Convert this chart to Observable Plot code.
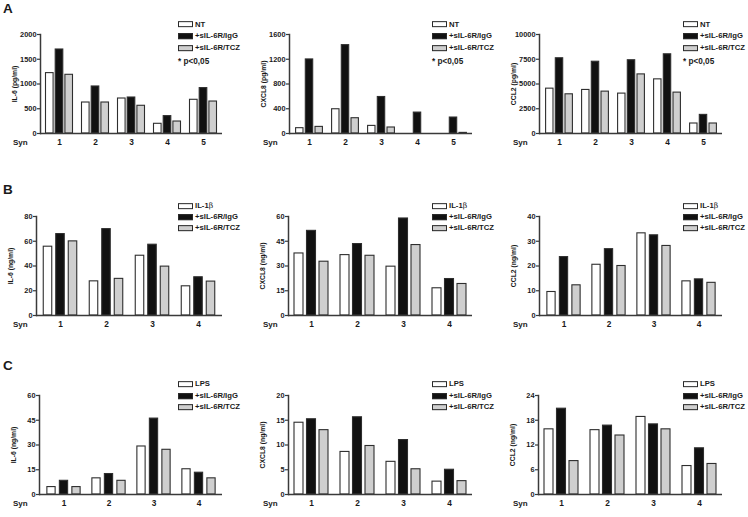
<!DOCTYPE html>
<html><head><meta charset="utf-8">
<script src="https://cdn.jsdelivr.net/npm/d3@7"></script>
<script src="https://cdn.jsdelivr.net/npm/@observablehq/plot@0.6"></script>
<style>
body{margin:0;background:#fff}
#root{position:relative;width:748px;height:517px;overflow:hidden;background:#fff;font-family:"Liberation Sans",Arial,sans-serif;font-weight:bold;color:#1a1a1a}
.abs{position:absolute;white-space:nowrap;line-height:1;transform:translateY(-50%)}
.panelsvg{position:absolute}
.box{display:inline-block;width:13px;height:4px;border:1.2px solid #2a2a2a;vertical-align:middle;margin-right:2px}
.leg{font-size:7.7px;display:flex;align-items:center}
g[aria-label="y-axis tick label"]{font-size:7.4px}
g[aria-label="x-axis tick label"]{font-size:8.3px}
g[aria-label="y-axis label"]{font-size:6.8px}
.beta{font-family:"DejaVu Serif",serif;font-weight:normal}
</style></head><body><div id="root"></div>
<script>
// ---------- data ----------
const synA = ["1", "2", "3", "4", "5"];
const synBC = ["1", "2", "3", "4"];
const legendA = ["NT", "+sIL-6R/IgG", "+sIL-6R/TCZ"];
const legendB = ["IL-1β", "+sIL-6R/IgG", "+sIL-6R/TCZ"];
const legendC = ["LPS", "+sIL-6R/IgG", "+sIL-6R/TCZ"];
const pNote = "* p<0,05";

// Row A (pg/ml)
const aIL6_NT  = [1220, 626, 707, 196, 681];
const aIL6_IgG = [1697, 950, 727, 351, 917];
const aIL6_TCZ = [1186, 626, 560, 242, 646];
const aCXCL8_NT  = [86, 392, 123, 0, 0];
const aCXCL8_IgG = [1197, 1428, 590, 338, 258];
const aCXCL8_TCZ = [107, 247, 97, 0, 10];
const aCCL2_NT  = [4530, 4400, 4030, 5470, 1010];
const aCCL2_IgG = [7600, 7250, 7400, 8000, 1880];
const aCCL2_TCZ = [3960, 4230, 5970, 4130, 1010];

// Row B (ng/ml)
const bIL6_IL1  = [55.6, 27.6, 48.3, 23.6];
const bIL6_IgG  = [65.8, 69.8, 57.2, 30.9];
const bIL6_TCZ  = [59.9, 29.6, 39.5, 27.4];
const bCXCL8_IL1 = [37.6, 36.6, 29.6, 16.5];
const bCXCL8_IgG = [51.3, 43.3, 58.8, 22.1];
const bCXCL8_TCZ = [32.6, 36.2, 42.7, 19.1];
const bCCL2_IL1 = [9.5, 20.5, 33.2, 13.8];
const bCCL2_IgG = [23.6, 26.8, 32.4, 14.6];
const bCCL2_TCZ = [12.2, 20.0, 28.1, 13.2];

// Row C (ng/ml)
const cIL6_LPS = [4.5, 9.8, 29.1, 15.3];
const cIL6_IgG = [8.3, 12.4, 46.0, 13.2];
const cIL6_TCZ = [4.5, 8.3, 27.1, 9.8];
const cCXCL8_LPS = [14.5, 8.6, 6.6, 2.6];
const cCXCL8_IgG = [15.2, 15.6, 11.0, 5.0];
const cCXCL8_TCZ = [13.0, 9.8, 5.1, 2.7];
const cCCL2_LPS = [15.8, 15.6, 18.8, 6.9];
const cCCL2_IgG = [20.8, 16.7, 17.0, 11.2];
const cCCL2_TCZ = [8.1, 14.3, 15.8, 7.4];

// tick values
const tA_IL6 = [0, 500, 1000, 1500, 2000];
const tA_CXCL8 = [0, 400, 800, 1200, 1600];
const tA_CCL2 = [0, 2500, 5000, 7500, 10000];
const tB_IL6 = [0, 20, 40, 60, 80];
const tB_CXCL8 = [0, 15, 30, 45, 60];
const tB_CCL2 = [0, 10, 20, 30, 40];
const tC_IL6 = [0, 15, 30, 45, 60];
const tC_CXCL8 = [0, 5, 10, 15, 20];
const tC_CCL2 = [0, 6, 12, 18, 24];

// ---------- drawing ----------
const root = document.getElementById("root");
const AX = "#3a3a3a";

function addText(txt, x, y, size, extra = "") {
  const d = document.createElement("div");
  d.className = "abs";
  d.style.left = x + "px"; d.style.top = y + "px"; d.style.fontSize = size + "px";
  if (extra) d.style.cssText += extra;
  d.innerHTML = txt;
  root.appendChild(d);
  return d;
}

function legend(names, x, ys, note, noteY) {
  const fills = ["#ffffff", "#111111", "#cfcfcf"];
  names.forEach((n, i) => {
    const d = document.createElement("div");
    d.className = "abs leg";
    d.style.left = x + "px"; d.style.top = ys[i] + "px";
    const b = document.createElement("span"); b.className = "box"; b.style.background = fills[i];
    const t = document.createElement("span");
    t.innerHTML = n.replace("β", '<span class="beta">β</span>');
    d.appendChild(b); d.appendChild(t);
    root.appendChild(d);
  });
  if (note) addText(note, x, noteY, 8.2);
}

function panel(o) {
  const {L, T, W, H, ml, mr, mt, mb, syn, s1, s2, s3, ticks, ylabel, barW, barStep} = o;
  const rows = syn.map((s, i) => ({syn: s, a: s1[i], b: s2[i], c: s3[i]}));
  const bw = (W - ml - mr) / syn.length;
  const inset = (bw - barW) / 2;
  const bar = (key, fill, dx) => Plot.barY(rows, {
    x: "syn", y: key, fill, stroke: "#2e2e2e", strokeWidth: 1.1,
    insetLeft: inset, insetRight: inset, dx
  });
  const svg = Plot.plot({
    width: W, height: H, marginLeft: ml, marginRight: mr, marginTop: mt, marginBottom: mb,
    style: {fontFamily: '"Liberation Sans", Arial, sans-serif', fontWeight: "bold", background: "transparent", color: "#1a1a1a", overflow: "visible"},
    x: {domain: syn, padding: 0},
    y: {domain: [0, ticks[ticks.length - 1]]},
    marks: [
      bar("a", "#ffffff", -barStep),
      bar("b", "#111111", 0),
      bar("c", "#cfcfcf", barStep),
      Plot.axisY({ticks, tickFormat: d => String(d), tickSize: 3, tickPadding: 1, stroke: AX, strokeWidth: 1.2, label: ylabel, labelAnchor: "center", labelOffset: 28, labelArrow: "none"}),
      Plot.axisX({tickSize: 0, tickPadding: 6, label: null}),
      Plot.ruleY([0], {stroke: AX, strokeWidth: 1.5}),
      Plot.frame({anchor: "left", stroke: AX, strokeWidth: 1.5})
    ]
  });
  svg.classList.add("panelsvg");
  svg.style.left = L + "px"; svg.style.top = T + "px";
  root.appendChild(svg);
}

const rowA = {T: 0, H: 150, mt: 34, mb: 17, syn: synA, barW: 8, barStep: 9.7};
const rowB = {T: 170, H: 160, mt: 46, mb: 15, syn: synBC, barW: 9, barStep: 12.5};
const rowC = {T: 350, H: 160, mt: 45, mb: 16, syn: synBC, barW: 9, barStep: 12.5};

panel({...rowA, L: 0, W: 250, ml: 40, mr: 28, s1: aIL6_NT, s2: aIL6_IgG, s3: aIL6_TCZ, ticks: tA_IL6, ylabel: "IL-6 (pg/ml)"});
panel({...rowA, L: 250, W: 250, ml: 39, mr: 28, s1: aCXCL8_NT, s2: aCXCL8_IgG, s3: aCXCL8_TCZ, ticks: tA_CXCL8, ylabel: "CXCL8 (pg/ml)"});
panel({...rowA, L: 500, W: 248, ml: 39, mr: 26, s1: aCCL2_NT, s2: aCCL2_IgG, s3: aCCL2_TCZ, ticks: tA_CCL2, ylabel: "CCL2 (pg/ml)"});

panel({...rowB, L: 0, W: 250, ml: 36, mr: 28, s1: bIL6_IL1, s2: bIL6_IgG, s3: bIL6_TCZ, ticks: tB_IL6, ylabel: "IL-6 (ng/ml)"});
panel({...rowB, L: 250, W: 250, ml: 38, mr: 28, s1: bCXCL8_IL1, s2: bCXCL8_IgG, s3: bCXCL8_TCZ, ticks: tB_CXCL8, ylabel: "CXCL8 (ng/ml)"});
panel({...rowB, L: 500, W: 248, ml: 39, mr: 26, s1: bCCL2_IL1, s2: bCCL2_IgG, s3: bCCL2_TCZ, ticks: tB_CCL2, ylabel: "CCL2 (ng/ml)"});

panel({...rowC, L: 0, W: 250, ml: 39, mr: 28, s1: cIL6_LPS, s2: cIL6_IgG, s3: cIL6_TCZ, ticks: tC_IL6, ylabel: "IL-6 (ng/ml)"});
panel({...rowC, L: 250, W: 250, ml: 38, mr: 28, s1: cCXCL8_LPS, s2: cCXCL8_IgG, s3: cCXCL8_TCZ, ticks: tC_CXCL8, ylabel: "CXCL8 (ng/ml)"});
panel({...rowC, L: 500, W: 248, ml: 38, mr: 26, s1: cCCL2_LPS, s2: cCCL2_IgG, s3: cCCL2_TCZ, ticks: tC_CCL2, ylabel: "CCL2 (ng/ml)"});

// panel letters
addText("A", 3, 9, 13.5);
addText("B", 3, 190, 13.5);
addText("C", 3, 366, 13.5);

// "Syn" labels
[0, 250, 500].forEach(L => {
  addText("Syn", L + 13, 143, 8);
  addText("Syn", L + 13, 325, 8);
  addText("Syn", L + 13, 504, 8);
});

// legends
legend(legendA, 178, [24.5, 36, 48], pNote, 62);
legend(legendA, 432, [24.5, 36, 48], pNote, 62);
legend(legendA, 683, [24.5, 36, 48], pNote, 62);
legend(legendB, 178, [206, 217, 228]);
legend(legendB, 432, [206, 217, 228]);
legend(legendB, 683, [206, 217, 228]);
legend(legendC, 178, [384, 396, 407]);
legend(legendC, 432, [384, 396, 407]);
legend(legendC, 683, [384, 396, 407]);
</script></body></html>
